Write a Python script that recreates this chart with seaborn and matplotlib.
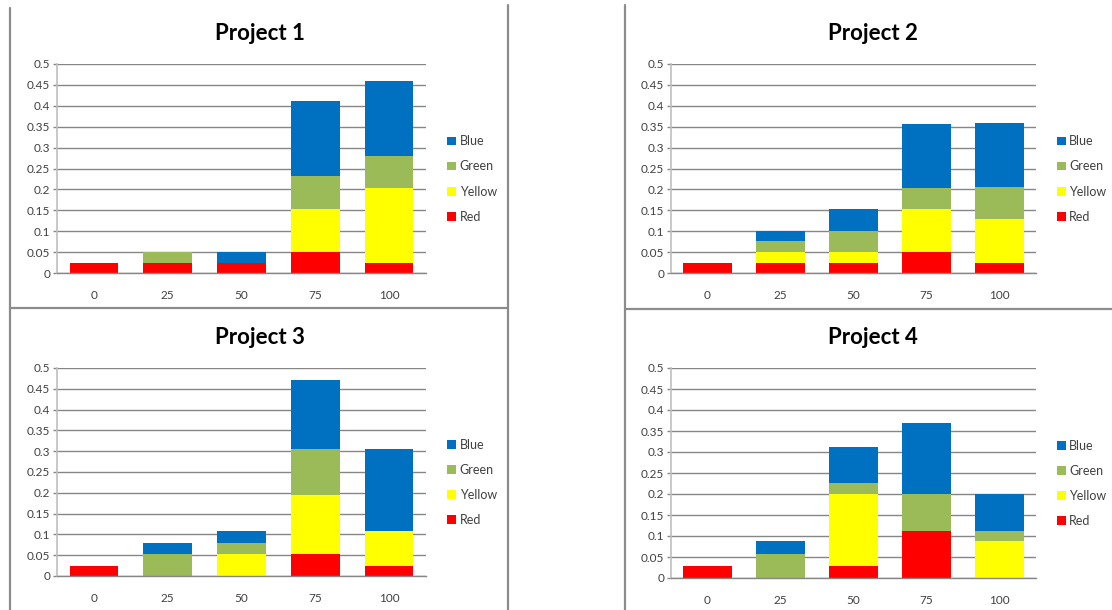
import numpy as np
import pandas as pd
import matplotlib
matplotlib.use("Agg")
import matplotlib.pyplot as plt
from matplotlib.patches import Patch
from matplotlib.lines import Line2D
import seaborn as sns

# x categories (percent complete)
categories = ["0", "25", "50", "75", "100"]
series_names = ["Red", "Yellow", "Green", "Blue"]  # stacking order, bottom -> top
series_colors = {"Red": "#FF0000", "Yellow": "#FFFF00", "Green": "#9BBB59", "Blue": "#0070C0"}

# Project 1
p1_red = [0.025, 0.025, 0.025, 0.050, 0.025]
p1_yellow = [0.0, 0.0, 0.0, 0.104, 0.179]
p1_green = [0.0, 0.025, 0.0, 0.077, 0.077]
p1_blue = [0.0, 0.0, 0.025, 0.180, 0.179]

# Project 2
p2_red = [0.025, 0.025, 0.025, 0.050, 0.025]
p2_yellow = [0.0, 0.025, 0.025, 0.104, 0.103]
p2_green = [0.0, 0.027, 0.051, 0.050, 0.077]
p2_blue = [0.0, 0.024, 0.053, 0.153, 0.153]

# Project 3
p3_red = [0.025, 0.0, 0.0, 0.053, 0.025]
p3_yellow = [0.0, 0.0, 0.053, 0.141, 0.083]
p3_green = [0.0, 0.053, 0.027, 0.111, 0.0]
p3_blue = [0.0, 0.027, 0.028, 0.165, 0.197]

# Project 4
p4_red = [0.028, 0.0, 0.028, 0.113, 0.0]
p4_yellow = [0.0, 0.0, 0.172, 0.0, 0.087]
p4_green = [0.0, 0.056, 0.027, 0.087, 0.026]
p4_blue = [0.0, 0.031, 0.086, 0.170, 0.087]

projects = {
    "Project 1": [p1_red, p1_yellow, p1_green, p1_blue],
    "Project 2": [p2_red, p2_yellow, p2_green, p2_blue],
    "Project 3": [p3_red, p3_yellow, p3_green, p3_blue],
    "Project 4": [p4_red, p4_yellow, p4_green, p4_blue],
}
y_ticks = [0, 0.05, 0.1, 0.15, 0.2, 0.25, 0.3, 0.35, 0.4, 0.45, 0.5]
y_tick_labels = ["0", "0.05", "0.1", "0.15", "0.2", "0.25", "0.3", "0.35", "0.4", "0.45", "0.5"]

sns.set_style("white")
plt.rcParams['font.family'] = ['Lato', 'DejaVu Sans']

W, H = 1112, 610
fig = plt.figure(figsize=(W / 100, H / 100), dpi=100)

# axes boxes in pixels: left, top, right, bottom, title centre x
boxes = {
    "Project 1": (57, 64, 426, 273, 260),
    "Project 2": (671, 64, 1036, 273, 873),
    "Project 3": (57, 368, 426, 576, 260),
    "Project 4": (671, 368, 1036, 578, 873),
}

grid_color = "#868686"
text_color = "#404040"

for name, series in projects.items():
    l, t, r, b, tx = boxes[name]
    ax = fig.add_axes([l / W, 1 - b / H, (r - l) / W, (b - t) / H])
    bottom = np.zeros(len(categories))
    for sname, vals in zip(series_names, series):
        df = pd.DataFrame({"pct": categories, "share": vals})
        sns.barplot(data=df, x="pct", y="share", color=series_colors[sname],
                    bottom=bottom, width=0.66, linewidth=0, saturation=1,
                    errorbar=None, ax=ax)
        bottom = bottom + np.array(vals)

    ax.set_ylim(0, 0.5)
    ax.set_xlim(-0.5, 4.5)
    ax.set_yticks(y_ticks)
    ax.set_yticklabels(y_tick_labels)
    ax.yaxis.grid(True, color=grid_color, linewidth=1)
    ax.set_axisbelow(True)
    ax.set_xlabel("")
    ax.set_ylabel("")
    for side in ["top", "right"]:
        ax.spines[side].set_visible(False)
    ax.spines["left"].set_color("#BFBFBF")
    ax.spines["left"].set_linewidth(1.2)
    ax.spines["bottom"].set_color(grid_color)
    ax.spines["bottom"].set_linewidth(1)
    ax.tick_params(axis="y", length=3, width=1, color=grid_color, labelsize=8.5,
                   labelcolor=text_color, pad=2, left=True)
    ax.tick_params(axis="x", length=0, labelsize=8.5, labelcolor=text_color, pad=12)
    # title is centred on the whole chart frame, not the plot area
    ax.set_title(name, fontsize=16, fontweight="bold", color="black",
                 family=['Lato', 'DejaVu Sans'], pad=17, x=(tx - l) / (r - l))

    # legend to the right of the plot area, top series first
    handles = [Patch(facecolor=series_colors[s], edgecolor="none", label=s)
               for s in ["Blue", "Green", "Yellow", "Red"]]
    ax.legend(handles=handles, loc="center left", bbox_to_anchor=(1.057, 0.45),
              frameon=False, fontsize=9, handlelength=0.7, handleheight=0.7,
              handletextpad=0.3, labelspacing=1.05, labelcolor=text_color,
              borderpad=0, borderaxespad=0)

# chart frames (pixel coordinates)
frame_color = "#8C8C8C"
frame_lines = [
    ((10, 10), (8, 610)),     # left column left edge
    ((508, 508), (5, 610)),   # left column right edge
    ((10, 508), (308, 308)),  # between project 1 and 3
    ((625, 625), (5, 610)),   # right column left edge
    ((625, 1112), (309, 309)),  # between project 2 and 4
]
for xs, ys in frame_lines:
    fig.add_artist(Line2D([x / W for x in xs], [1 - y / H for y in ys],
                          color=frame_color, linewidth=1.6))

fig.savefig("out.png", dpi=100)
